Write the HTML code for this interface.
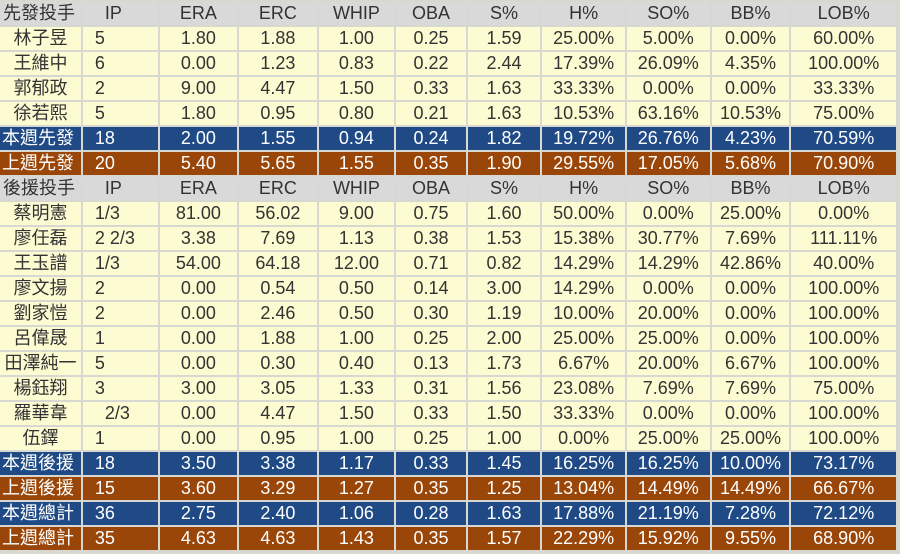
<!DOCTYPE html>
<html><head><meta charset="utf-8">
<style>
html,body{margin:0;padding:0;width:900px;height:554px;overflow:hidden;background:#d8d8d2;}
table{border-collapse:separate;border-spacing:2px;position:absolute;left:-2px;top:0;table-layout:fixed;}
td{height:23px;padding:0;font-family:"Liberation Sans","Noto Sans CJK TC",sans-serif;font-size:18px;color:#333;text-align:center;white-space:pre;overflow:hidden;line-height:23px;}
td:nth-child(2){text-align:left;padding-left:12px;}
tr.h td{background:#d9d9d9;color:#333;}
tr.d td{background:#fdfbd2;}
tr.b td{background:#1f4a85;color:#fff;}
tr.o td{background:#9a4608;color:#fff;}
tr.b td:first-child,tr.o td:first-child{text-align:left;padding-left:2px;}
tr.h td:first-child{text-align:left;padding-left:3px;}
</style></head><body>
<table>
<colgroup>
<col style="width:81px"><col style="width:75px"><col style="width:78px"><col style="width:78px"><col style="width:76px"><col style="width:70px"><col style="width:73px"><col style="width:83px"><col style="width:83px"><col style="width:78px"><col style="width:105px">
</colgroup>
<tr class="h"><td>先發投手</td><td>  IP</td><td>ERA</td><td>ERC</td><td>WHIP</td><td>OBA</td><td>S%</td><td>H%</td><td>SO%</td><td>BB%</td><td>LOB%</td></tr>
<tr class="d"><td>林子昱</td><td>5</td><td>1.80</td><td>1.88</td><td>1.00</td><td>0.25</td><td>1.59</td><td>25.00%</td><td>5.00%</td><td>0.00%</td><td>60.00%</td></tr>
<tr class="d"><td>王維中</td><td>6</td><td>0.00</td><td>1.23</td><td>0.83</td><td>0.22</td><td>2.44</td><td>17.39%</td><td>26.09%</td><td>4.35%</td><td>100.00%</td></tr>
<tr class="d"><td>郭郁政</td><td>2</td><td>9.00</td><td>4.47</td><td>1.50</td><td>0.33</td><td>1.63</td><td>33.33%</td><td>0.00%</td><td>0.00%</td><td>33.33%</td></tr>
<tr class="d"><td>徐若熙</td><td>5</td><td>1.80</td><td>0.95</td><td>0.80</td><td>0.21</td><td>1.63</td><td>10.53%</td><td>63.16%</td><td>10.53%</td><td>75.00%</td></tr>
<tr class="b"><td>本週先發</td><td>18</td><td>2.00</td><td>1.55</td><td>0.94</td><td>0.24</td><td>1.82</td><td>19.72%</td><td>26.76%</td><td>4.23%</td><td>70.59%</td></tr>
<tr class="o"><td>上週先發</td><td>20</td><td>5.40</td><td>5.65</td><td>1.55</td><td>0.35</td><td>1.90</td><td>29.55%</td><td>17.05%</td><td>5.68%</td><td>70.90%</td></tr>
<tr class="h"><td>後援投手</td><td>  IP</td><td>ERA</td><td>ERC</td><td>WHIP</td><td>OBA</td><td>S%</td><td>H%</td><td>SO%</td><td>BB%</td><td>LOB%</td></tr>
<tr class="d"><td>蔡明憲</td><td>1/3</td><td>81.00</td><td>56.02</td><td>9.00</td><td>0.75</td><td>1.60</td><td>50.00%</td><td>0.00%</td><td>25.00%</td><td>0.00%</td></tr>
<tr class="d"><td>廖任磊</td><td>2 2/3</td><td>3.38</td><td>7.69</td><td>1.13</td><td>0.38</td><td>1.53</td><td>15.38%</td><td>30.77%</td><td>7.69%</td><td>111.11%</td></tr>
<tr class="d"><td>王玉譜</td><td>1/3</td><td>54.00</td><td>64.18</td><td>12.00</td><td>0.71</td><td>0.82</td><td>14.29%</td><td>14.29%</td><td>42.86%</td><td>40.00%</td></tr>
<tr class="d"><td>廖文揚</td><td>2</td><td>0.00</td><td>0.54</td><td>0.50</td><td>0.14</td><td>3.00</td><td>14.29%</td><td>0.00%</td><td>0.00%</td><td>100.00%</td></tr>
<tr class="d"><td>劉家愷</td><td>2</td><td>0.00</td><td>2.46</td><td>0.50</td><td>0.30</td><td>1.19</td><td>10.00%</td><td>20.00%</td><td>0.00%</td><td>100.00%</td></tr>
<tr class="d"><td>呂偉晟</td><td>1</td><td>0.00</td><td>1.88</td><td>1.00</td><td>0.25</td><td>2.00</td><td>25.00%</td><td>25.00%</td><td>0.00%</td><td>100.00%</td></tr>
<tr class="d"><td>田澤純一</td><td>5</td><td>0.00</td><td>0.30</td><td>0.40</td><td>0.13</td><td>1.73</td><td>6.67%</td><td>20.00%</td><td>6.67%</td><td>100.00%</td></tr>
<tr class="d"><td>楊鈺翔</td><td>3</td><td>3.00</td><td>3.05</td><td>1.33</td><td>0.31</td><td>1.56</td><td>23.08%</td><td>7.69%</td><td>7.69%</td><td>75.00%</td></tr>
<tr class="d"><td>羅華韋</td><td>  2/3</td><td>0.00</td><td>4.47</td><td>1.50</td><td>0.33</td><td>1.50</td><td>33.33%</td><td>0.00%</td><td>0.00%</td><td>100.00%</td></tr>
<tr class="d"><td>伍鐸</td><td>1</td><td>0.00</td><td>0.95</td><td>1.00</td><td>0.25</td><td>1.00</td><td>0.00%</td><td>25.00%</td><td>25.00%</td><td>100.00%</td></tr>
<tr class="b"><td>本週後援</td><td>18</td><td>3.50</td><td>3.38</td><td>1.17</td><td>0.33</td><td>1.45</td><td>16.25%</td><td>16.25%</td><td>10.00%</td><td>73.17%</td></tr>
<tr class="o"><td>上週後援</td><td>15</td><td>3.60</td><td>3.29</td><td>1.27</td><td>0.35</td><td>1.25</td><td>13.04%</td><td>14.49%</td><td>14.49%</td><td>66.67%</td></tr>
<tr class="b"><td>本週總計</td><td>36</td><td>2.75</td><td>2.40</td><td>1.06</td><td>0.28</td><td>1.63</td><td>17.88%</td><td>21.19%</td><td>7.28%</td><td>72.12%</td></tr>
<tr class="o"><td>上週總計</td><td>35</td><td>4.63</td><td>4.63</td><td>1.43</td><td>0.35</td><td>1.57</td><td>22.29%</td><td>15.92%</td><td>9.55%</td><td>68.90%</td></tr>
</table>
</body></html>
